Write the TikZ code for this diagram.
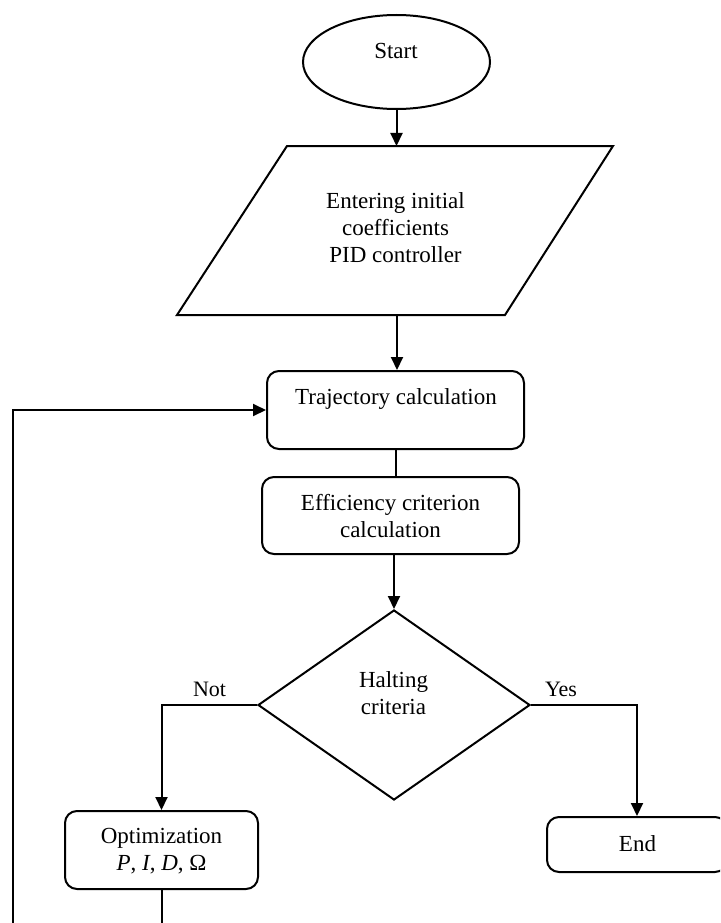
\documentclass[tikz,border=0pt]{standalone}
\usepackage{fontspec}
\setmainfont{Liberation Serif}
\usetikzlibrary{arrows.meta,shapes.geometric}

\begin{document}
\begin{tikzpicture}[x=1pt,y=-1pt,
  conn/.style={line width=2pt},
  arr/.style={line width=2pt,-{Triangle[length=13pt,width=12pt]}},
  box/.style={draw,line width=2pt,rounded corners=12pt,inner sep=0pt},
  txt/.style={font=\fontsize{23}{27}\selectfont,align=center,inner sep=0pt},
  lbl/.style={font=\fontsize{22}{26}\selectfont,inner sep=0pt}]

\path[use as bounding box] (0,0) rectangle (720,923);
\clip (0,0) rectangle (720,923);

% terminator
\node[draw,ellipse,line width=2pt,minimum width=187pt,minimum height=94pt,inner sep=0pt] (start) at (396.5,62) {};
\node[txt] (start-t) at (396,51) {Start};

% input block (parallelogram)
\coordinate (p1) at (177,315);
\coordinate (p2) at (505,315);
\coordinate (p3) at (613,146);
\coordinate (p4) at (287,146);
\draw[line width=2pt,line join=miter] (p1) -- (p2) -- (p3) -- (p4) -- cycle;
\coordinate (par-top) at (396.5,146);
\coordinate (par-bot) at (397,315);
\node[txt] (par-t) at (395.5,228) {Entering initial\\coefficients\\PID controller};

% processing blocks
\node[box,minimum width=257pt,minimum height=78pt] (traj) at (395.5,410) {};
\node[txt] (traj-t) at (396,398.5) {Trajectory calculation};

\node[box,minimum width=257pt,minimum height=77pt] (eff) at (390.5,515.5) {};
\node[txt] (eff-t) at (390.5,516) {Efficiency criterion\\calculation};

% decision
\node[draw,diamond,line width=2pt,minimum width=272pt,minimum height=190pt,inner sep=0pt] (dia) at (394,705) {};
\node[txt] (dia-t) at (393.5,693.5) {Halting\\criteria};

\node[box,minimum width=193pt,minimum height=78pt] (opt) at (161.5,850) {};
\node[txt] (opt-t) at (161.5,851) {Optimization\\\textit{P}, \textit{I}, \textit{D}, Ω};

\node[box,minimum width=180pt,minimum height=55pt] (end) at (637,844.5) {};
\node[txt] (end-t) at (637.5,843.5) {End};

% branch labels
\node[lbl] (not) at (209.5,689.5) {Not};
\node[lbl] (yes) at (561,689.5) {Yes};

% connectors
\draw[arr] (start.south) -- (par-top);
\draw[arr] (par-bot) -- (par-bot |- traj.north);
\draw[conn] (traj.south) -- (traj.south |- eff.north);
\draw[arr] (dia.north |- eff.south) -- (dia.north);
\draw[arr] (dia.west) -| (opt.north);
\draw[arr] (dia.east) -| (end.north);

% feedback loop
\coordinate (opt-out) at (161.5,935);
\coordinate (loop) at (13,935);
\draw[conn] (opt.south) -- (opt-out);
\draw[arr] (loop) |- (traj.west);
\end{tikzpicture}
\end{document}
